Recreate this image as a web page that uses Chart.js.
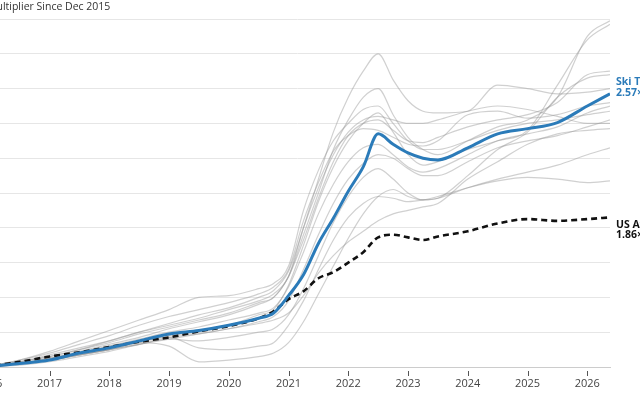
<!DOCTYPE html>
<html>
<head>
<meta charset="utf-8">
<script src="https://cdn.jsdelivr.net/npm/chart.js@4.4.1/dist/chart.umd.min.js"></script>
<style>
  html, body { margin: 0; padding: 0; background: #fff; overflow: hidden; width: 640px; height: 400px; }
  .wrap { position: absolute; left: -60px; top: 0; width: 760px; height: 400px; }
</style>
</head>
<body>
<div class="wrap"><canvas id="chart"></canvas></div>
<script>
// decimal years, Dec 2015 .. May 2026
var dates = [2015.92, 2016.5, 2017, 2017.5, 2018, 2018.5, 2019, 2019.5, 2020, 2020.5, 2020.75,
  2021, 2021.25, 2021.5, 2021.75, 2022, 2022.25, 2022.5, 2022.75, 2023, 2023.25, 2023.5,
  2024, 2024.5, 2025, 2025.5, 2026, 2026.38]

var skiTowns = [1.0, 1.02, 1.04, 1.08, 1.11, 1.15, 1.19, 1.21, 1.24, 1.28, 1.31,
  1.41, 1.53, 1.71, 1.855, 2.01, 2.15, 2.34, 2.28, 2.23, 2.20, 2.19,
  2.26, 2.34, 2.37, 2.405, 2.50, 2.57]

var usAverage = [1.0, 1.03, 1.06, 1.085, 1.115, 1.145, 1.17, 1.205, 1.235, 1.28, 1.32,
  1.39, 1.435, 1.51, 1.545, 1.60, 1.66, 1.745, 1.76, 1.745, 1.73, 1.75,
  1.78, 1.825, 1.85, 1.84, 1.85, 1.86]

// individual ski towns (grey)
var towns = [
  [1.0, 1.03, 1.07, 1.11, 1.15, 1.20, 1.25, 1.30, 1.34, 1.40, 1.44, 1.55, 1.80, 2.08, 2.35, 2.55, 2.70, 2.80, 2.65, 2.53, 2.47, 2.46, 2.47, 2.62, 2.60, 2.57, 2.58, 2.60],
  [1.0, 1.02, 1.05, 1.09, 1.13, 1.17, 1.22, 1.26, 1.30, 1.36, 1.40, 1.52, 1.76, 2.00, 2.25, 2.42, 2.55, 2.60, 2.45, 2.32, 2.25, 2.22, 2.30, 2.38, 2.42, 2.55, 2.90, 2.99],
  [1.0, 1.02, 1.04, 1.07, 1.10, 1.14, 1.18, 1.20, 1.24, 1.30, 1.33, 1.47, 1.70, 1.95, 2.15, 2.30, 2.40, 2.46, 2.35, 2.22, 2.16, 2.18, 2.25, 2.30, 2.36, 2.62, 2.88, 2.97],
  [1.0, 1.03, 1.06, 1.10, 1.14, 1.19, 1.23, 1.27, 1.31, 1.37, 1.40, 1.52, 1.73, 1.97, 2.18, 2.33, 2.40, 2.42, 2.36, 2.30, 2.29, 2.32, 2.38, 2.42, 2.45, 2.52, 2.68, 2.70],
  [1.0, 1.02, 1.04, 1.07, 1.10, 1.14, 1.12, 1.03, 1.04, 1.06, 1.08, 1.14, 1.26, 1.42, 1.58, 1.74, 1.88, 1.98, 2.02, 1.98, 1.96, 1.97, 2.10, 2.25, 2.35, 2.55, 2.66, 2.68],
  [1.0, 1.04, 1.08, 1.13, 1.18, 1.24, 1.29, 1.33, 1.37, 1.42, 1.46, 1.56, 1.84, 2.06, 2.24, 2.33, 2.37, 2.36, 2.32, 2.28, 2.27, 2.30, 2.45, 2.47, 2.43, 2.45, 2.50, 2.52],
  [1.0, 1.02, 1.05, 1.08, 1.12, 1.16, 1.20, 1.23, 1.27, 1.31, 1.34, 1.46, 1.66, 1.88, 2.05, 2.18, 2.26, 2.28, 2.22, 2.15, 2.12, 2.14, 2.22, 2.30, 2.34, 2.38, 2.46, 2.50],
  [1.0, 1.01, 1.03, 1.06, 1.09, 1.13, 1.17, 1.19, 1.22, 1.26, 1.29, 1.38, 1.56, 1.76, 1.94, 2.08, 2.17, 2.22, 2.20, 2.14, 2.10, 2.10, 2.18, 2.26, 2.30, 2.33, 2.38, 2.42],
  [1.0, 1.03, 1.06, 1.10, 1.15, 1.20, 1.24, 1.28, 1.33, 1.38, 1.42, 1.52, 1.80, 2.03, 2.22, 2.35, 2.42, 2.44, 2.42, 2.40, 2.40, 2.42, 2.47, 2.50, 2.48, 2.44, 2.40, 2.40],
  [1.0, 1.02, 1.04, 1.07, 1.10, 1.13, 1.16, 1.15, 1.17, 1.20, 1.22, 1.30, 1.45, 1.64, 1.83, 1.98, 2.09, 2.14, 2.08, 2.00, 1.96, 1.97, 2.03, 2.08, 2.12, 2.16, 2.22, 2.26],
  [1.0, 1.02, 1.05, 1.08, 1.12, 1.15, 1.17, 1.11, 1.10, 1.12, 1.14, 1.24, 1.38, 1.56, 1.73, 1.86, 1.94, 1.98, 1.97, 1.95, 1.96, 1.98, 2.03, 2.07, 2.09, 2.08, 2.06, 2.07],
  [1.0, 1.02, 1.04, 1.07, 1.10, 1.13, 1.16, 1.19, 1.22, 1.25, 1.27, 1.31, 1.41, 1.54, 1.64, 1.72, 1.78, 1.84, 1.88, 1.90, 1.92, 1.94, 2.08, 2.18, 2.28, 2.34, 2.36, 2.37],
  [1.0, 1.04, 1.09, 1.15, 1.21, 1.27, 1.33, 1.40, 1.41, 1.45, 1.48, 1.58, 1.90, 2.13, 2.30, 2.40, 2.48, 2.50, 2.40, 2.30, 2.25, 2.25, 2.30, 2.36, 2.40, 2.42, 2.45, 2.47]
]

var yearTicks = [2016, 2017, 2018, 2019, 2020, 2021, 2022, 2023, 2024, 2025, 2026]
var titleText = 'Multiplier Since Dec 2015'
var skiLabel = ['Ski Towns', '2.57×']
var usLabel = ['US Average', '1.86×']

var FONT = "'Open Sans', 'Noto Sans', sans-serif"
var BLUE = '#2b7bb9'

function pts(vals) {
  return vals.map((v, i) => ({ x: dates[i], y: v }))
}

var datasets = towns.map(t => ({
  data: pts(t),
  borderColor: 'rgba(150,150,150,0.45)',
  borderWidth: 1.2,
  pointRadius: 0,
  cubicInterpolationMode: 'monotone',
  order: 3
}))
datasets.push({
  data: pts(usAverage),
  borderColor: '#111',
  borderWidth: 2.6,
  borderDash: [6, 4],
  pointRadius: 0,
  cubicInterpolationMode: 'monotone',
  order: 1
})
datasets.push({
  data: pts(skiTowns),
  borderColor: BLUE,
  borderWidth: 3,
  pointRadius: 0,
  cubicInterpolationMode: 'monotone',
  order: 0
})

const extras = {
  id: 'extras',
  afterDraw(chart) {
    const ctx = chart.ctx
    const area = chart.chartArea
    const xs = chart.scales.x
    const ys = chart.scales.y
    ctx.save()
    // title
    ctx.fillStyle = '#333'
    ctx.font = '10.5px ' + FONT
    ctx.textBaseline = 'middle'
    ctx.textAlign = 'left'
    ctx.fillText(titleText, area.left + 2, 7)
    // year tick marks
    ctx.strokeStyle = '#555'
    ctx.lineWidth = 1
    yearTicks.forEach(yr => {
      const px = Math.round(xs.getPixelForValue(yr)) + 0.5
      ctx.beginPath()
      ctx.moveTo(px, area.bottom + 4)
      ctx.lineTo(px, area.bottom + 9)
      ctx.stroke()
    })
    // end labels
    ctx.font = 'bold 10.5px ' + FONT
    const lx = area.right + 6
    const sy = ys.getPixelForValue(skiTowns[skiTowns.length - 1])
    ctx.fillStyle = BLUE
    ctx.fillText(skiLabel[0], lx, sy - 12)
    ctx.fillText(skiLabel[1], lx, sy - 1)
    const uy = ys.getPixelForValue(usAverage[usAverage.length - 1])
    ctx.fillStyle = '#111'
    ctx.fillText(usLabel[0], lx, uy + 8)
    ctx.fillText(usLabel[1], lx, uy + 18)
    ctx.restore()
  }
}

new Chart(document.getElementById('chart'), {
  type: 'line',
  data: { datasets: datasets },
  options: {
    responsive: true,
    maintainAspectRatio: false,
    animation: false,
    layout: { padding: { left: 45, right: 90, top: 19, bottom: 0 } },
    plugins: { legend: { display: false }, tooltip: { enabled: false } },
    scales: {
      x: {
        type: 'linear',
        min: dates[0],
        max: dates[dates.length - 1],
        afterFit: s => { s.height = 33 },
        grid: { display: false, drawTicks: false },
        border: { display: true, color: '#ccc', width: 1 },
        ticks: {
          stepSize: 1,
          includeBounds: false,
          padding: 10,
          color: '#444',
          font: { family: FONT, size: 11 },
          callback: v => String(v)
        }
      },
      y: {
        min: 1,
        max: 3,
        afterFit: s => { s.width = 0 },
        border: { display: false },
        grid: { color: '#e6e6e6', drawTicks: false },
        ticks: { stepSize: 0.2, display: false }
      }
    }
  },
  plugins: [extras]
})
</script>
</body>
</html>
